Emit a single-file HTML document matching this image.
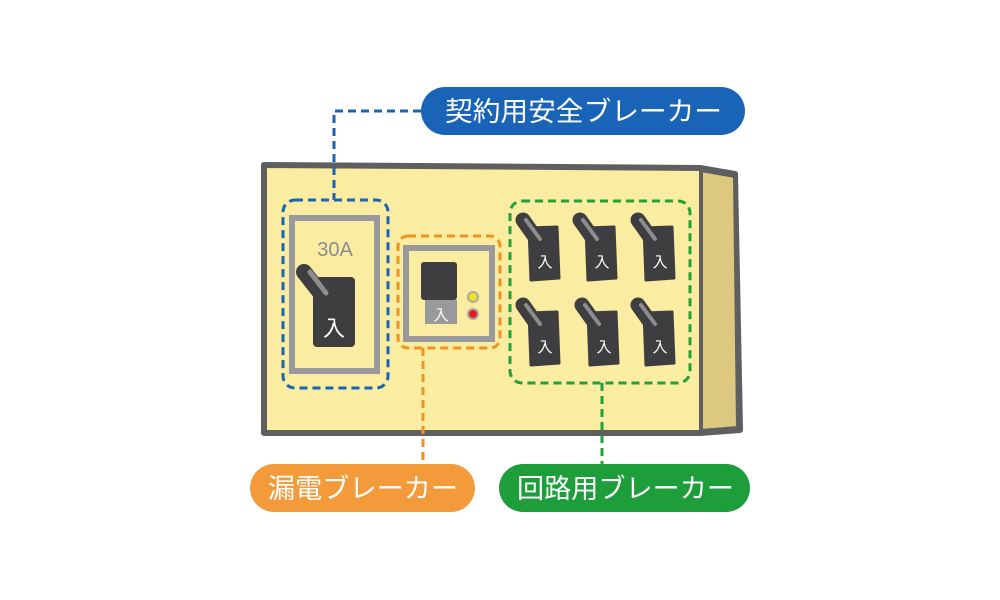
<!DOCTYPE html>
<html><head><meta charset="utf-8"><style>
html,body{margin:0;padding:0;background:#fff;}
svg{display:block}
text{font-family:"Liberation Sans","Noto Sans CJK JP",sans-serif;}
</style></head><body>
<svg width="1000" height="600" viewBox="0 0 1000 600" xmlns="http://www.w3.org/2000/svg">
<defs>
<g id="sw">
<path d="M13 14 L41 13 L43 64 L15 66 Z" fill="#3e3e40" stroke="#3e3e40" stroke-width="3" stroke-linejoin="round"/>
<line x1="7" y1="6" x2="24" y2="30" stroke="#3e3e40" stroke-width="15" stroke-linecap="round"/>
<line x1="10" y1="6" x2="24" y2="25" stroke="#8d8d8f" stroke-width="4" stroke-linecap="round"/>
</g>
</defs>
<!-- board -->
<path d="M264 165 L700 168 L735 174 L740 430 L700 433 L264 433 Z" fill="#faeca0" stroke="#5f5f61" stroke-width="6" stroke-linejoin="round"/>
<path d="M701 170 L735 176 L738 428 L701 431 Z" fill="#dcc87e" stroke="#5f5f61" stroke-width="4"/>

<!-- blue -->
<path d="M421 111 H334 V200" fill="none" stroke="#1a64b8" stroke-width="3" stroke-dasharray="8,5"/>
<rect x="283" y="200" width="105" height="188" rx="12" fill="none" stroke="#1a64b8" stroke-width="3" stroke-dasharray="8,5"/>
<rect x="292" y="218" width="85" height="153" fill="none" stroke="#9a9a9c" stroke-width="6"/>
<text x="335" y="256" font-size="20" fill="#8d8d8f" text-anchor="middle">30A</text>
<rect x="313" y="277" width="42" height="70" rx="4" fill="#3e3e40"/>
<line x1="304" y1="272" x2="326" y2="300" stroke="#3e3e40" stroke-width="16" stroke-linecap="round"/>
<line x1="310" y1="272" x2="326" y2="293" stroke="#8d8d8f" stroke-width="5" stroke-linecap="round"/>
<text x="334" y="336" font-size="22" fill="#fff" text-anchor="middle">入</text>

<!-- orange -->
<rect x="398" y="236" width="102" height="112" rx="10" fill="none" stroke="#f0921e" stroke-width="3" stroke-dasharray="8,5"/>
<line x1="423" y1="348" x2="423" y2="464" stroke="#f0921e" stroke-width="3" stroke-dasharray="8,5"/>
<rect x="406" y="248" width="86" height="91" fill="none" stroke="#9a9a9c" stroke-width="6"/>
<rect x="421" y="262" width="36" height="38" rx="3" fill="#3e3e40"/>
<rect x="425" y="300" width="32" height="24" fill="#9a9a9c"/>
<text x="441" y="320" font-size="15" fill="#fff" text-anchor="middle">入</text>
<circle cx="473" cy="297" r="5" fill="#f2e41c" stroke="#aaa" stroke-width="2"/>
<circle cx="473" cy="314" r="5" fill="#e0201e" stroke="#aaa" stroke-width="2"/>

<!-- green -->
<rect x="510" y="201" width="180" height="182" rx="12" fill="none" stroke="#22a03a" stroke-width="3" stroke-dasharray="8,5"/>
<line x1="602" y1="383" x2="602" y2="464" stroke="#22a03a" stroke-width="3" stroke-dasharray="8,5"/>
<use href="#sw" x="516" y="214"/><use href="#sw" x="573" y="214"/><use href="#sw" x="631" y="214"/>
<use href="#sw" x="516" y="299"/><use href="#sw" x="575" y="299"/><use href="#sw" x="631" y="299"/>
<g font-size="15" fill="#fff" text-anchor="middle">
<text x="545" y="267">入</text><text x="602" y="267">入</text><text x="660" y="267">入</text>
<text x="545" y="352">入</text><text x="604" y="352">入</text><text x="660" y="352">入</text>
</g>

<!-- pills -->
<rect x="421" y="87" width="324" height="48" rx="24" fill="#1a64b8"/>
<text x="445" y="121" font-size="27" fill="#fff" textLength="277" lengthAdjust="spacingAndGlyphs">契約用安全ブレーカー</text>
<rect x="250" y="464" width="225" height="48" rx="24" fill="#f39b3a"/>
<text x="268" y="498" font-size="27" fill="#fff" textLength="190" lengthAdjust="spacingAndGlyphs">漏電ブレーカー</text>
<rect x="499" y="464" width="251" height="48" rx="24" fill="#1e9e3a"/>
<text x="517" y="498" font-size="27" fill="#fff" textLength="217" lengthAdjust="spacingAndGlyphs">回路用ブレーカー</text>
</svg>
</body></html>
